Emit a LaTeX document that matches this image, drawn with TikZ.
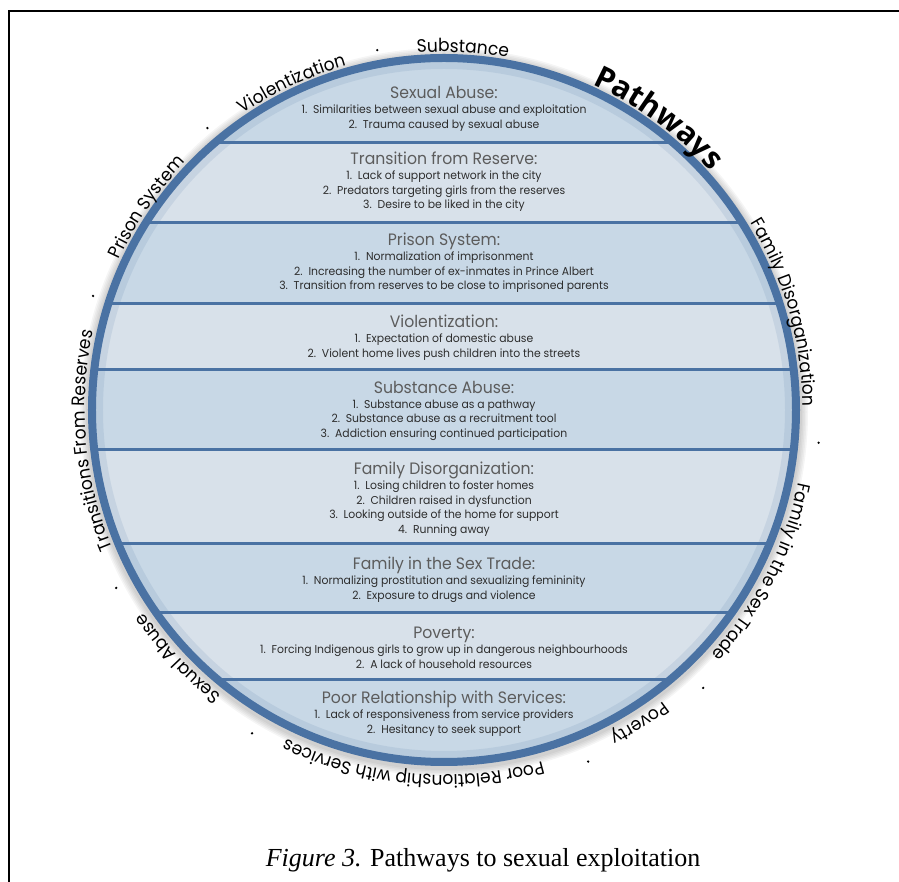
\documentclass[tikz,border=0pt]{standalone}
\usepackage{fontspec}
\setmainfont{Liberation Serif}
\newfontfamily\bandfont{Poppins}[FakeStretch=0.95]
\newfontfamily\headfont{Open Sans}
\usetikzlibrary{positioning, decorations.text}

\definecolor{ringblue}{RGB}{74,114,163}
\definecolor{banddark}{RGB}{200,216,230}
\definecolor{bandlight}{RGB}{216,225,234}
\definecolor{titlegray}{RGB}{92,92,92}
\definecolor{itemgray}{RGB}{45,45,45}

\newcommand{\titlefont}{\bandfont\fontsize{16.5}{18}\selectfont}
\newcommand{\itemfont}{\bandfont\fontsize{11.4}{14.6}\selectfont}
\newcommand{\ringfont}{\bandfont\fontsize{18}{20}\selectfont}
\newcommand{\pathfont}{\headfont\bfseries\fontsize{30.5}{34}\selectfont}

\tikzset{
  bandtitle/.style={font=\titlefont, text=titlegray, inner sep=0pt, text depth=0pt, anchor=base},
  banditems/.style={font=\itemfont, text=itemgray, inner sep=0pt, align=center},
  ringlabel/.style={decorate, decoration={text along path, text align=center, text={|\ringfont|#1}}},
}

\begin{document}
\begin{tikzpicture}[x=1pt, y=1pt]
    \useasboundingbox (-444,-472) rectangle (455,410);
    % page frame
    \draw[line width=1.5pt] (455,399) -- (-435,399) -- (-435,-472);

    % soft shadow round the disc
    \foreach \w in {12,15,18,21,24}
        \draw[black, opacity=0.04, line width=\w pt] (0,-2) circle (352pt);

    % bands
    \begin{scope}
        \clip (0,0) circle (350pt);
        \foreach \top/\bot/\col in {360/267/banddark, 267/187/bandlight, 187/106/banddark,
                106/40/bandlight, 40/-40/banddark, -40/-134/bandlight, -134/-203/banddark,
                -203/-270/bandlight, -270/-360/banddark}
            \fill[\col] (-360,\top) rectangle (360,\bot);
        \foreach \y in {267,187,106,40,-40,-134,-203,-270}
            \draw[ringblue, line width=3pt] (-360,\y) -- (360,\y);
        \draw[ringblue, opacity=0.12, line width=10pt] (0,0) circle (346pt);
    \end{scope}
    \draw[ringblue, line width=8pt] (0,0) circle (352pt);

    % band texts
    \node[bandtitle] (sexabuse) at (0,311.5) {Sexual Abuse:};
    \node[banditems, below=6pt of sexabuse] (sexabuse-list)
        {1.~~Similarities between sexual abuse and exploitation\\2.~~Trauma caused by sexual abuse};
    \node[bandtitle] (reserve) at (0,245.5) {Transition from Reserve:};
    \node[banditems, below=6pt of reserve] (reserve-list)
        {1.~~Lack of support network in the city\\2.~~Predators targeting girls from the reserves\\3.~~Desire to be liked in the city};
    \node[bandtitle] (prison) at (0,164.5) {Prison System:};
    \node[banditems, below=6pt of prison] (prison-list)
        {1.~~Normalization of imprisonment\\2.~~Increasing the number of ex-inmates in Prince Albert\\3.~~Transition from reserves to be close to imprisoned parents};
    \node[bandtitle] (violent) at (0,82.5) {Violentization:};
    \node[banditems, below=6pt of violent] (violent-list)
        {1.~~Expectation of domestic abuse\\2.~~Violent home lives push children into the streets};
    \node[bandtitle] (substance) at (0,16.5) {Substance Abuse:};
    \node[banditems, below=6pt of substance] (substance-list)
        {1.~~Substance abuse as a pathway\\2.~~Substance abuse as a recruitment tool\\3.~~Addiction ensuring continued participation};
    \node[bandtitle] (famdis) at (0,-64.5) {Family Disorganization:};
    \node[banditems, below=6pt of famdis] (famdis-list)
        {1.~~Losing children to foster homes\\2.~~Children raised in dysfunction\\3.~~Looking outside of the home for support\\4.~~Running away};
    \node[bandtitle] (famsex) at (0,-159.5) {Family in the Sex Trade:};
    \node[banditems, below=6pt of famsex] (famsex-list)
        {1.~~Normalizing prostitution and sexualizing femininity\\2.~~Exposure to drugs and violence};
    \node[bandtitle] (poverty) at (0,-228.5) {Poverty:};
    \node[banditems, below=6pt of poverty] (poverty-list)
        {1.~~Forcing Indigenous girls to grow up in dangerous neighbourhoods\\2.~~A lack of household resources};
    \node[bandtitle] (services) at (0,-293.5) {Poor Relationship with Services:};
    \node[banditems, below=6pt of services] (services-list)
        {1.~~Lack of responsiveness from service providers\\2.~~Hesitancy to seek support};

    % labels round the rim, running clockwise
    \foreach \ang/\rad/\lbl in {87/358/Substance, 115/358/Violentization, 145.7/358/Prison System,
            185/359/Transitions From Reserves, 223/362/Sexual Abuse,
            265/365/Poor Relationship with Services, 302/365/Poverty,
            333/362/Family in the Sex Trade, 16/359/Family Disorganization}
        \path[ringlabel/.expanded=\lbl] (\ang+40:\rad) arc[start angle=\ang+40, end angle=\ang-40, radius=\rad*1pt];
    \path[decorate, decoration={text along path, text align=center, text={|\pathfont|Pathways}}]
        (93.7:358) arc[start angle=93.7, end angle=13.7, radius=358pt];

    % dots between the labels
    \foreach \ang/\rad in {100.5/366, 130/368, 162/369, 208.5/373, 239.3/376, 292.3/380, 313/380, 355/376}
        \fill (\ang:\rad) circle (1.3pt);

    % caption
    \node[anchor=base, font=\fontsize{26}{30}\selectfont] (caption) at (39,-456)
        {\textit{Figure 3.} Pathways to sexual exploitation};
\end{tikzpicture}
\end{document}
